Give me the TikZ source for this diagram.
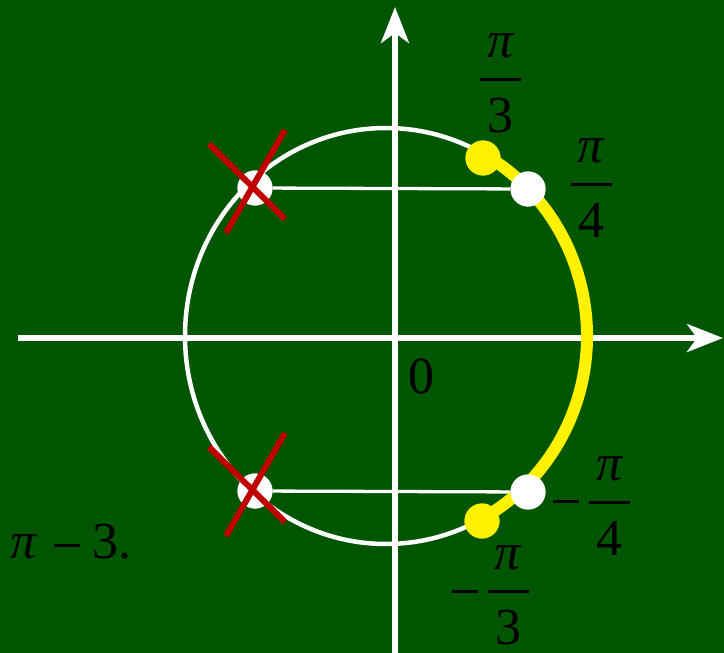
\documentclass[tikz,border=0pt]{standalone}
\usepackage{fontspec}
\setmainfont{Liberation Serif}
\usetikzlibrary{arrows.meta}

\definecolor{board}{RGB}{0,85,0}
\definecolor{chalkred}{RGB}{192,0,0}

% fraction pi over a digit, base line at the bottom
\newcommand{\pifrac}[1]{\vbox{\hsize=41pt\offinterlineskip
  \hbox to\hsize{\hss\itshape π\hss}\vskip20pt
  \hrule height3pt\vskip17pt
  \hbox to\hsize{\hss#1\hss}}}
\newcommand{\mns}{\raisebox{11pt}{\rule{26pt}{3pt}}}

\begin{document}
\begin{tikzpicture}[x=1pt,y=-1pt,
  every node/.style={font=\fontsize{52}{60}\selectfont,inner sep=0pt},
  axis/.style={white,line width=5.5pt,-{Stealth[length=36pt,width=28pt,inset=10pt]}},
  ring/.style={white,line width=4.5pt},
  chord/.style={white,line width=3.3pt},
  yarc/.style={yellow,line width=12pt},
  spot/.style={circle,fill=#1,minimum size=35pt},
  cross/.style={chalkred,line width=6pt}]
  \fill[board] (0,0) rectangle (724,653);
  \useasboundingbox (0,0) rectangle (724,653);

  \coordinate (o) at (386,336);
  \coordinate (xl) at (18,338);
  \coordinate (xr) at (723,338);
  \coordinate (yb) at (395,653);
  \coordinate (yt) at (395,7);
  \draw[axis] (xl) -- (xr);
  \draw[axis] (yb) -- (yt);
  \draw[ring] (o) ellipse [x radius=201,y radius=208];

  % points on the circle
  \node[spot=white]  (a1) at (255,188) {};
  \node[spot=white]  (a2) at (255,491) {};
  \node[spot=white]  (q1) at (528,189) {};
  \node[spot=white]  (q2) at (528,492) {};
  \node[spot=yellow] (t1) at (483,158) {};
  \node[spot=yellow] (t2) at (482,521) {};

  \draw[chord] (a1) -- (q1);
  \draw[chord] (a2) -- (q2);
  \draw[yarc] ([shift={(-61:201 and 208)}]o) arc[start angle=-61,end angle=61,x radius=201,y radius=208];
  \foreach \p/\c in {t1/yellow,t2/yellow,q1/white,q2/white,a1/white,a2/white}{
    \node[spot=\c] at (\p) {};
  }
  \foreach \p in {a1,a2}{
    \draw[cross] ([shift={(-46,-44)}]\p.center) -- ([shift={(30,31)}]\p.center);
    \draw[cross] ([shift={(30,-58)}]\p.center) -- ([shift={(-29,45)}]\p.center);
  }

  % labels
  \node[anchor=base] (f3) at (500.5,132) {\pifrac{3}};
  \node[anchor=base] (f4) at (591,237) {\pifrac{4}};
  \node[anchor=base] (g4) at (609.5,555) {\pifrac{4}};
  \node[anchor=base] (g3) at (508,644) {\pifrac{3}};
  \node[anchor=base] (m4) at (565.5,513.5) {\mns};
  \node[anchor=base] (m3) at (464.5,603.5) {\mns};
  \node[anchor=base] (zero) at (421,393) {0};
  \node[anchor=base west] (rest) at (10,558) {{\itshape π}\hspace{18pt}\mns\hspace{12pt}3.};
\end{tikzpicture}
\end{document}
